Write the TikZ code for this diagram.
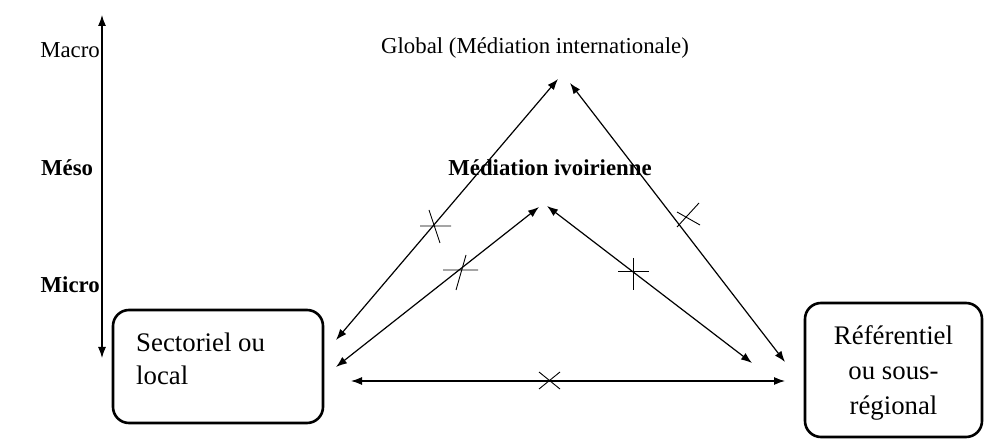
\documentclass[tikz,border=0pt]{standalone}
\usepackage{fontspec}
\setmainfont{Liberation Serif}
\usetikzlibrary{arrows.meta}
\begin{document}
\begin{tikzpicture}[x=1pt,y=-1pt,
  lab/.style={inner sep=0pt,font=\fontsize{22.8}{27}\selectfont},
  blab/.style={lab,font=\fontsize{22.8}{27}\selectfont\bfseries},
  box/.style={draw,line width=2.6pt,rounded corners=16pt,inner sep=0pt},
  boxtext/.style={inner sep=0pt},
  link/.style={line width=1.2pt,{Latex[length=11pt,width=8pt]}-{Latex[length=11pt,width=8pt]}},
  tick/.style={line width=0.9pt}]
\useasboundingbox (0,0) rectangle (991,443);
% vertical scale
\coordinate (axtop) at (102,15);
\coordinate (axbot) at (102,358);
\draw[link] (axtop) -- (axbot);
\node[lab,anchor=east] (macro) at (100,50) {Macro};
\node[blab,anchor=west] (meso) at (41,168) {Méso};
\node[blab,anchor=east] (micro) at (100,285) {Micro};
% labels
\node[lab] (global) at (535,48) {Global (Médiation internationale)};
\node[blab] (ivoir) at (550,168) {Médiation ivoirienne};
% boxes
\node[box,minimum width=210pt,minimum height=113pt] (sl) at (218,366.5) {};
\node[boxtext,anchor=west,align=left,font=\fontsize{26.8}{33}\selectfont] (slt) at (136,359) {Sectoriel ou\\local};
\node[box,minimum width=177pt,minimum height=134pt] (rs) at (893.5,370) {};
\node[boxtext,align=center,font=\fontsize{26.8}{35}\selectfont] (rst) at (893.5,373) {Référentiel\\ou sous-\\régional};
% arrow ends
\coordinate (g1) at (558,79);
\coordinate (g2) at (570,83);
\coordinate (i1) at (539,207);
\coordinate (i2) at (547,206);
\coordinate (l1) at (336,340);
\coordinate (l2) at (336,367);
\coordinate (l3) at (351,381);
\coordinate (r1) at (785,362);
\coordinate (r2) at (752,363);
\coordinate (r3) at (785,381);
\draw[link] (g1) -- (l1);
\draw[link] (g2) -- (r1);
\draw[link] (i1) -- (l2);
\draw[link] (i2) -- (r2);
\draw[link] (l3) -- (r3);
% cross marks
\draw[tick] (420,226) -- (451,226) (429,210) -- (440,243);
\draw[tick] (443,270) -- (478,270) (466,255) -- (456,290);
\draw[tick] (618,271) -- (649,271) (633,258) -- (633,290);
\draw[tick] (677,227) -- (699,203) (677,212) -- (700,225);
\draw[tick] (539,372) -- (560,389) (539,389) -- (560,372);
\end{tikzpicture}
\end{document}
